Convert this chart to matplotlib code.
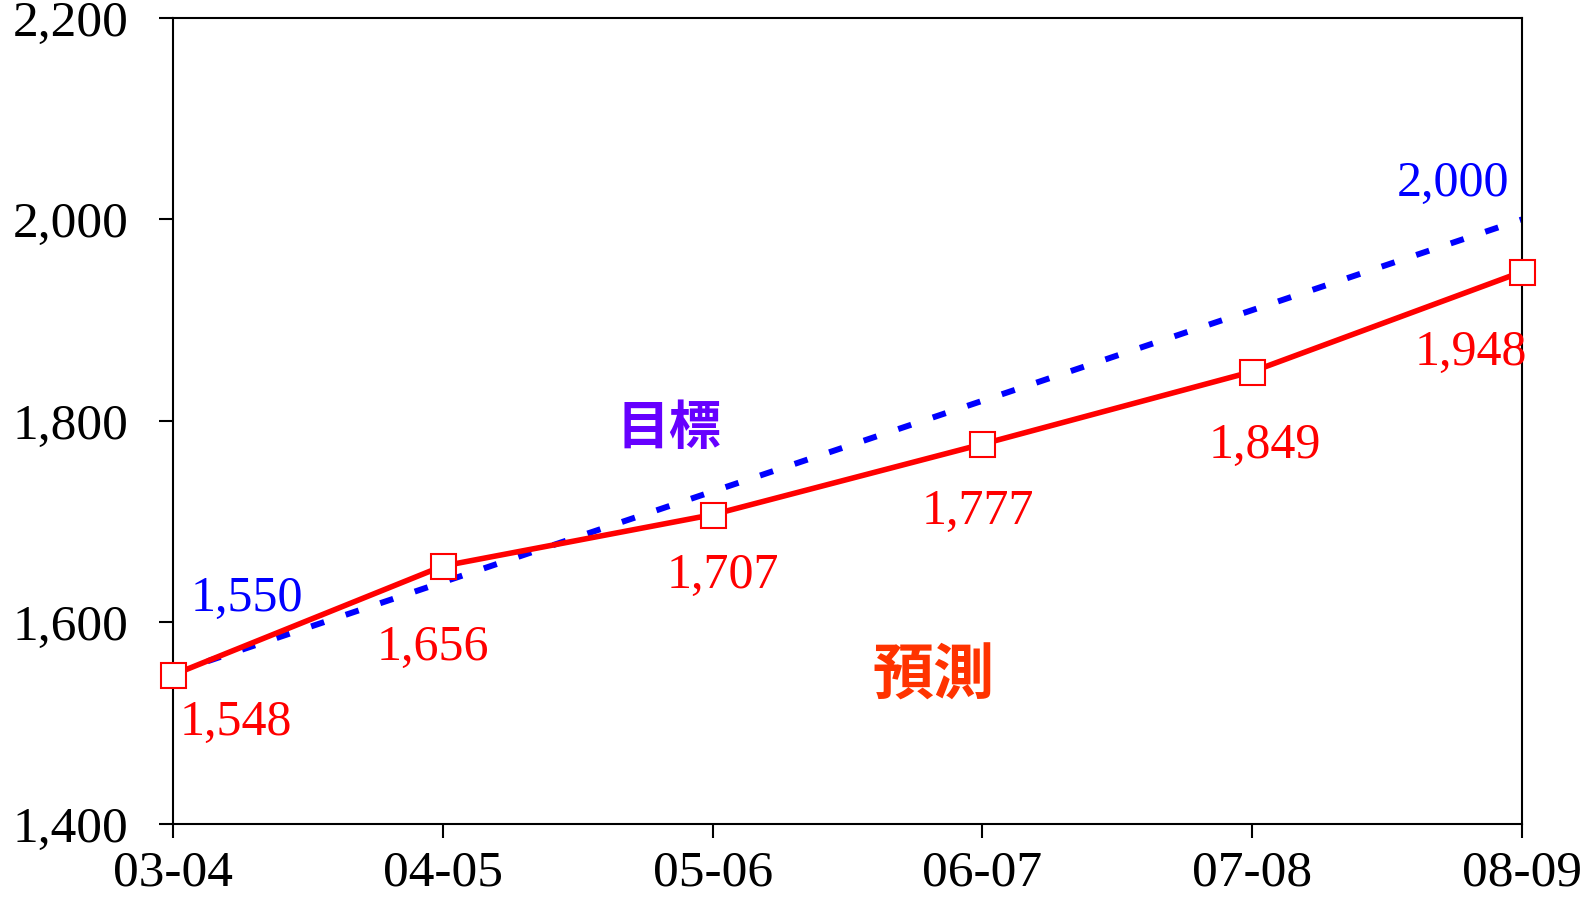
import matplotlib
matplotlib.use("Agg")
import matplotlib.pyplot as plt

categories = ["03-04", "04-05", "05-06", "06-07", "07-08", "08-09"]
forecast = [1548, 1656, 1707, 1777, 1849, 1948]
target = [1550, 1640, 1730, 1820, 1910, 2000]
yticks = [1400, 1600, 1800, 2000, 2200]

# label offsets in pixels (dx right, dy down)
forecast_offsets = [(63, 48), (-10, 82), (10, 61), (-4, 68), (13, 74), (-51, 81)]
target_label_idx = [0, 5]
target_offsets = [(74, -74), (-69, -36)]

serif = ["Liberation Serif", "DejaVu Serif"]
cjk = ["Noto Sans CJK TC", "DejaVu Sans"]

fig = plt.figure(figsize=(15.96, 8.97), dpi=100)
ax = fig.add_axes([0.1084, 0.0814, 0.9536 - 0.1084, 0.980 - 0.0814])

x = list(range(len(categories)))
ax.plot(x, target, color="#0000FF", lw=4.3, dashes=(2.3, 3.8), dash_capstyle="butt", zorder=2)
ax.plot(x, forecast, color="#FF0000", lw=4.0, marker="s", ms=18, mfc="white",
        mec="#FF0000", mew=1.5, zorder=3, clip_on=False)

px = 72 / 100.0
for i, (v, (dx, dy)) in enumerate(zip(forecast, forecast_offsets)):
    ax.annotate(f"{v:,}", (i, v), xytext=(dx * px, -dy * px), textcoords="offset points",
                ha="center", va="center", color="#FF0000", fontsize=36, family=serif)
for i, (dx, dy) in zip(target_label_idx, target_offsets):
    v = target[i]
    ax.annotate(f"{v:,}", (i, v), xytext=(dx * px, -dy * px), textcoords="offset points",
                ha="center", va="center", color="#0000FF", fontsize=36, family=serif)

ax.text(1.84, 1793, "目標", color="#6600FF", fontsize=38, fontweight="bold",
        family=cjk, ha="center", va="center")
ax.text(2.82, 1546, "預測", color="#FF3300", fontsize=44, fontweight="bold",
        family=cjk, ha="center", va="center")

ax.set_xlim(0, len(categories) - 1)
ax.set_ylim(1400, 2200)
ax.set_xticks(x)
ax.set_xticklabels(categories)
ax.set_yticks(yticks)
ax.set_yticklabels([f"{t:,}" for t in yticks])
ax.tick_params(axis="both", direction="out", length=10, width=1.5, labelsize=37)
ax.tick_params(axis="y", pad=22)
ax.tick_params(axis="x", pad=9)
for lab in ax.get_xticklabels() + ax.get_yticklabels():
    lab.set_family(serif)
for s in ax.spines.values():
    s.set_linewidth(1.5)

fig.savefig("out.png", dpi=100)
